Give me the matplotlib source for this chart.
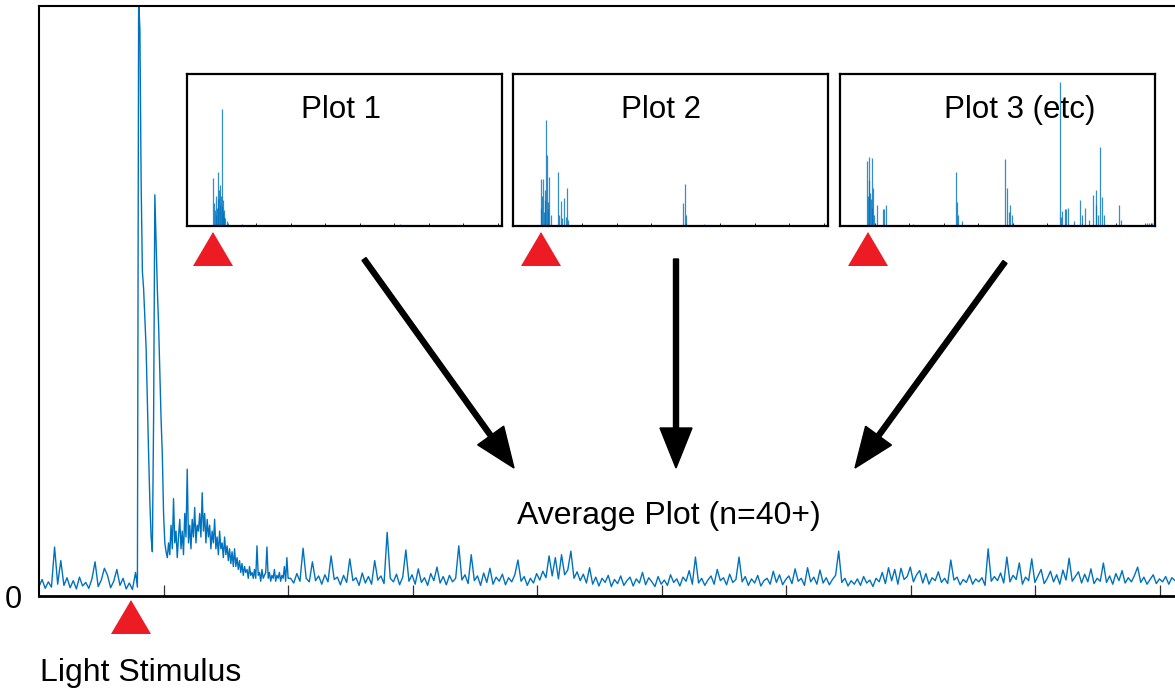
import numpy as np
import matplotlib.pyplot as plt

plt.rcParams['font.family'] = ['Liberation Sans', 'DejaVu Sans']

pre_start, pre_step = 0.0, 0.025
pre_vals = [1.6, 2.8, 1.3, 2.4, 1.5, 8.3, 2.0, 6.0, 1.8, 3.1,
            1.4, 2.6, 1.2, 3.2, 1.7, 2.3, 1.3, 2.9, 5.8, 1.6,
            2.7, 4.7, 3.5, 1.4, 2.5, 4.5, 1.8, 3.0, 1.2, 2.2,
            1.1, 4.0]

resp_start, resp_step = 0.79, 0.01
resp_vals = [1.5, 101, 96, 70, 55, 52, 47, 42, 33, 24,
             16, 10, 7.5, 30, 68, 60, 52, 46, 38, 30,
             24, 14, 9, 7.5,
             6.5, 9, 7, 12, 8, 16.5, 9, 11, 6.5, 10,
             13, 8, 11, 7, 14, 10, 21.5, 9, 12, 8,
             13, 10, 15, 9, 12, 11, 14, 10, 17.5, 11,
             14, 9, 13, 10, 12, 8, 11, 9, 13, 8,
             10, 7, 11, 8, 9, 6.5, 10, 7, 8.5, 6,
             8, 5.5, 7.5, 5, 8, 5, 6.5, 4.5, 6, 4,
             5.5, 3.5, 5, 4, 4.5, 3, 5, 3.5, 4, 3,
             4.5, 3, 8.5, 3.5, 4, 2.5, 4.5, 3, 3.5, 4,
             8.3, 3, 4, 2.5, 3.5, 3, 4.5, 2.5, 3.5, 3,
             4, 2.5, 3.5, 3, 5, 2.5, 6.5, 3]

tail_start, tail_step = 2.02, 0.025
tail_vals = [3.0, 2.2, 3.8, 2.5, 8.1, 3.0, 2.4, 5.8, 2.6, 3.4,
             2.0, 3.6, 2.4, 6.8, 2.8, 3.2, 1.9, 3.5, 2.3, 6.3,
             2.6, 3.1, 1.8, 3.9, 2.2, 3.3, 2.0, 6.0, 2.7, 3.4,
             2.1, 10.8, 3.0, 2.4, 3.7, 1.9, 3.2, 7.8, 2.5, 3.6,
             2.0, 4.6, 2.3, 3.1, 1.8, 3.8, 2.6, 4.9, 2.2, 3.3,
             1.9, 3.5, 2.4, 3.0, 8.5, 2.7, 3.6, 2.1, 7.0, 2.6,
             3.4, 1.8, 3.9, 2.3, 4.7, 2.0, 3.2, 2.5, 3.7, 1.9,
             3.1, 2.4, 3.6, 6.1, 2.5, 3.3, 1.8, 3.0, 2.2, 3.8,
             2.7, 4.2, 3.1, 6.8, 3.4, 6.5, 2.9, 7.0, 3.6, 4.4,
             7.6, 3.0, 4.1, 2.6, 3.7, 2.2, 4.8, 2.0, 3.2, 1.7,
             3.0, 2.3, 3.5, 1.6, 2.8, 2.1, 3.4, 1.8, 2.6, 3.2,
             1.7, 2.9, 2.2, 4.0, 1.9, 3.1, 2.4, 1.6, 3.3, 2.0,
             2.7, 1.8, 3.6, 2.3, 2.9, 1.7, 3.2, 2.5, 4.3, 2.0,
             6.6, 2.2, 3.0, 1.8, 2.7, 3.4, 2.0, 4.5, 2.6, 3.1,
             1.9, 3.7, 2.3, 2.8, 6.6, 2.4, 3.3, 1.8, 2.9, 2.2,
             3.5, 1.7, 2.6, 3.0, 2.0, 4.2, 2.3, 3.6, 1.9, 2.8,
             3.4, 2.1, 4.6, 2.5, 3.0, 1.8, 4.8, 2.4, 3.2, 2.0,
             4.4, 2.2, 3.1, 1.9, 2.8, 3.5, 7.6, 2.3, 3.0, 1.7,
             2.6, 2.0, 2.9, 1.8, 3.3, 2.2, 2.7, 1.6, 3.0, 2.4,
             4.0, 2.1, 4.8, 2.6, 4.5, 2.0, 4.7, 2.8, 3.3, 4.9,
             2.4, 3.6, 4.3, 2.2, 3.8, 2.0, 3.1, 2.6, 4.1, 2.3,
             3.0, 2.1, 6.1, 2.7, 3.2, 1.9, 2.8, 2.3, 3.6, 2.0,
             2.9, 2.4, 3.1, 1.8, 8.0, 2.5, 3.3, 2.6, 3.9, 2.2,
             6.6, 2.4, 3.5, 2.8, 5.6, 2.0, 3.2, 2.6, 6.3, 2.3,
             3.4, 4.5, 2.1, 3.0, 4.2, 2.4, 3.6, 2.0, 4.4, 2.7,
             6.4, 2.5, 3.3, 4.1, 2.2, 3.7, 2.4, 4.6, 2.1, 3.0,
             2.5, 5.6, 2.3, 3.4, 2.0, 3.8, 2.6, 4.3, 2.2, 3.1,
             2.4, 3.5, 4.9, 2.3, 3.2, 2.0, 2.8, 3.6, 2.1, 2.9,
             2.4, 3.3, 2.0, 3.1, 2.6, 3.4]

# single trials: spike times and heights
plot1_t = [0.76, 0.78, 0.81, 0.83, 0.85, 0.87, 0.89, 0.91, 0.93, 0.95,
           0.96, 0.98, 1.00, 1.01, 1.03, 1.04, 1.06, 1.08, 1.11, 1.16,
           1.20, 1.60, 6.17]
plot1_v = [31.8, 15, 10.5, 20, 7, 12, 35.5, 18, 23.5, 14,
           26.8, 20, 77, 13, 17, 9, 10.5, 6, 5, 3,
           2, 1, 1]

plot2_t = [0.80, 0.82, 0.85, 0.88, 0.90, 0.92, 0.94, 0.96, 0.97, 1.00,
           1.02, 1.05, 1.09, 1.29, 1.33, 1.38, 1.42, 1.48, 1.52, 1.56,
           1.60, 4.93, 4.98, 5.02, 5.53]
plot2_v = [12, 31, 20, 31, 9, 17, 24, 70, 47, 16,
           11, 32, 7, 35.5, 7, 16.5, 5, 18.7, 6, 25,
           4, 15, 27.5, 7, 1]

plot3_t = [0.79, 0.81, 0.83, 0.85, 0.87, 0.90, 0.92, 0.94, 0.96, 0.99,
           1.06, 1.24, 1.27, 1.32, 2.10, 3.35, 3.39, 3.42, 3.52, 4.78,
           4.83, 4.88, 4.93, 4.98, 6.36, 6.40, 6.44, 6.50, 6.55, 6.59,
           6.77, 6.96, 7.00, 7.10, 7.20, 7.32, 7.40, 7.42, 7.47, 7.54,
           7.59, 7.64, 8.09, 8.13, 8.83, 8.90, 8.96, 9.02]
plot3_v = [43, 20, 45.5, 30, 21.5, 18, 44.5, 12, 25, 7,
           14, 11, 11, 14, 1, 35.5, 15.5, 7, 3, 44,
           25, 9, 14, 7, 95, 6, 10, 11, 11.5, 12,
           3, 17.4, 7, 11.6, 4, 20.3, 14, 24, 7, 52,
           19, 7, 14, 4, 2, 2, 2, 2]

inset_titles = ['Plot 1', 'Plot 2', 'Plot 3 (etc)']
x_max = 9.12

W, H = 1175, 690
blue = '#0072BD'
red = '#ED1C24'

fig = plt.figure(figsize=(W / 100, H / 100), dpi=100)


def px_axes(left, top, right, bottom):
    return fig.add_axes([left / W, 1 - bottom / H, (right - left) / W, (bottom - top) / H])


# main (average) plot
t = np.concatenate([pre_start + pre_step * np.arange(len(pre_vals)),
                    resp_start + resp_step * np.arange(len(resp_vals)),
                    tail_start + tail_step * np.arange(len(tail_vals))])
v = np.concatenate([pre_vals, resp_vals, tail_vals])

ax = px_axes(39, 6, 1175, 596)
ax.plot(t, v, color=blue, linewidth=1.0)
ax.set_xlim(0, x_max)
ax.set_ylim(0, 100)
ax.set_xticks(range(1, 10))
ax.tick_params(axis='x', direction='in', length=8, width=0.9, color='#333333', labelbottom=False)
ax.set_yticks([0])
ax.set_yticklabels(['0'])
ax.tick_params(axis='y', length=0, pad=12, labelsize=22)
ax.spines['right'].set_visible(False)
ax.spines['top'].set_linewidth(1.5)
ax.spines['left'].set_linewidth(1.5)
ax.spines['bottom'].set_linewidth(2)

# the three single-trial insets
boxes = [(187, 502), (513, 828), (840, 1155)]
title_x = [0.49, 0.47, 0.57]
trials = [(plot1_t, plot1_v), (plot2_t, plot2_v), (plot3_t, plot3_v)]
for (left, right), title, tx, (st, sv) in zip(boxes, inset_titles, title_x, trials):
    ia = px_axes(left, 74, right, 226)
    ia.vlines(st, 0, sv, color=blue, linewidth=0.9, alpha=0.8)
    ia.set_xlim(0, x_max)
    ia.set_ylim(0, 100)
    ia.set_xticks(range(1, 10))
    ia.set_yticks([])
    ia.tick_params(axis='x', direction='in', length=2.5, width=0.6, labelbottom=False)
    for sp in ia.spines.values():
        sp.set_linewidth(1.6)
    ia.text(tx, 0.712, title, transform=ia.transAxes, ha='center', va='baseline', fontsize=22.5)

# overlay for triangles, arrows and labels, in pixel coordinates
ov = fig.add_axes([0, 0, 1, 1])
ov.set_xlim(0, W)
ov.set_ylim(H, 0)
ov.axis('off')

for cx, top in [(131, 600), (213, 232), (541, 232), (868, 232)]:
    ov.fill([cx, cx - 20, cx + 20], [top, top + 34, top + 34], color=red, linewidth=0)

for x0, y0, x1, y1 in [(364, 259, 514, 468), (676, 259, 676, 468), (1005, 262, 855, 468)]:
    ov.arrow(x0, y0, x1 - x0, y1 - y0, width=5, head_width=32, head_length=40,
             length_includes_head=True, color='black')

ov.text(669, 524, 'Average Plot (n=40+)', ha='center', va='baseline', fontsize=23)
ov.text(40, 681, 'Light Stimulus', ha='left', va='baseline', fontsize=23)

fig.savefig('out.png', dpi=100)
